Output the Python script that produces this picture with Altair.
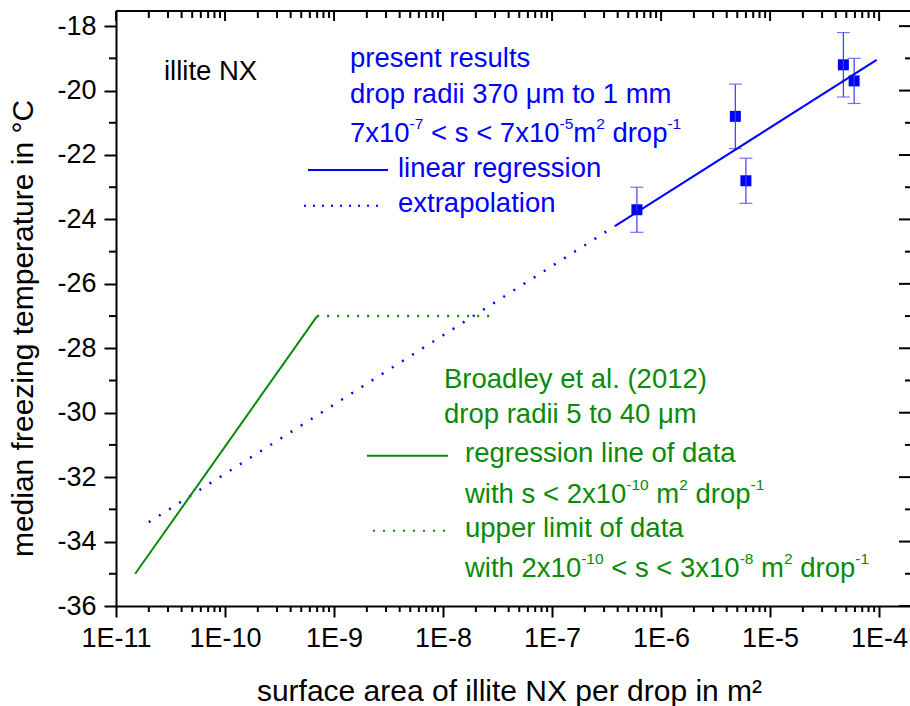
import altair as alt
import pandas as pd

# ---------------- data ----------------
present_s = [6.0e-7, 4.8e-6, 6.0e-6, 4.7e-5, 5.9e-5]
present_T = [-23.7, -20.8, -22.8, -19.2, -19.7]
present_err = [0.7, 1.0, 0.7, 1.0, 0.7]

reg_s = [3.8e-7, 9.5e-5]
reg_T = [-24.2, -19.05]
extrap_s = [2.0e-11, 3.8e-7]
extrap_T = [-33.4, -24.2]

broad_reg_s = [1.5e-11, 7.0e-10]
broad_reg_T = [-35.0, -27.0]
broad_up_s = [7.0e-10, 3.0e-8]
broad_up_T = [-27.0, -27.0]

x_major = [1e-11, 1e-10, 1e-9, 1e-8, 1e-7, 1e-6, 1e-5, 1e-4]
y_major = [-36, -34, -32, -30, -28, -26, -24, -22, -20, -18]
y_minor = [-35, -33, -31, -29, -27, -25, -23, -21, -19]

X_DOMAIN = [1e-11, 1.92e-4]
Y_DOMAIN = [-36, -17.53]
x_minor = [m * d for d in x_major for m in range(2, 10) if m * d <= X_DOMAIN[1]]

# annotation texts: (segment, is_superscript)
blue_lines = [
    [("present results", 0)],
    [("drop radii 370 \u03bcm to 1 mm", 0)],
    [("7x10", 0), ("-7", 1), (" < s < 7x10", 0), ("-5", 1), ("m", 0), ("2", 1),
     (" drop", 0), ("-1", 1)],
    [("linear regression", 0)],
    [("extrapolation", 0)],
]
green_lines = [
    [("Broadley et al. (2012)", 0)],
    [("drop radii 5 to 40 \u03bcm", 0)],
    [("regression line of data", 0)],
    [("with s < 2x10", 0), ("-10", 1), (" m", 0), ("2", 1), (" drop", 0), ("-1", 1)],
    [("upper limit of data", 0)],
    [("with 2x10", 0), ("-10", 1), (" < s < 3x10", 0), ("-8", 1), (" m", 0), ("2", 1),
     (" drop", 0), ("-1", 1)],
]
label_text = "illite NX"
x_title = "surface area of illite NX per drop in m\u00b2"
y_title = "median freezing temperature in \u00b0C"

# ---------------- layout ----------------
W, H = 794, 595
FONT = "Liberation Sans"
BLUE = "#0000ff"
GREEN = "#0a8a0a"
ANN = 27.5
SUP = 15.5
RAISE = 13

# Arial / Liberation Sans advance widths (1/1000 em)
AW = {" ": 278, "-": 333, "x": 500, "<": 584, "s": 500, "m": 833, "d": 556,
      "r": 333, "o": 556, "p": 556, "w": 722, "i": 222, "t": 278, "h": 556}
for c in "0123456789":
    AW[c] = 556


def text_width(t, size):
    return sum(AW.get(c, 556) for c in t) * size / 1000.0


xs = alt.Scale(type="log", domain=X_DOMAIN, nice=False)
ys = alt.Scale(domain=Y_DOMAIN, nice=False, zero=False)

x_axis = alt.Axis(values=x_major, labelExpr="'1E' + round(log(datum.value)/LN10)",
                  tickSize=11, tickWidth=2, tickColor="black", domainWidth=2,
                  domainColor="black", labelFont=FONT, labelFontSize=27,
                  labelColor="black", labelPadding=8, labelFlush=False,
                  labelOverlap=False, title=x_title, titleFont=FONT,
                  titleFontSize=30, titleFontWeight="normal", titleColor="black",
                  titleX=393, titleY=94, titleBaseline="alphabetic", grid=False)
y_axis = alt.Axis(values=y_major, labelExpr="'' + datum.value",
                  tickSize=12, tickWidth=2, tickColor="black", domainWidth=2,
                  domainColor="black", labelFont=FONT, labelFontSize=27,
                  labelColor="black", labelPadding=8, labelOverlap=False,
                  title=y_title, titleFont=FONT, titleFontSize=30,
                  titleFontWeight="normal", titleColor="black", titleX=-84,
                  titleY=317, titleAngle=270, titleBaseline="alphabetic", grid=False)

X = lambda f: alt.X(f, scale=xs, axis=x_axis)
Y = lambda f: alt.Y(f, scale=ys, axis=y_axis)

pts = pd.DataFrame({"s": present_s, "T": present_T, "e": present_err})

points = alt.Chart(pts).mark_square(size=121, color=BLUE, opacity=1).encode(
    x=X("s:Q"), y=Y("T:Q"))

err_base = alt.Chart(pts).transform_calculate(lo="datum.T - datum.e", hi="datum.T + datum.e")
err_rule = err_base.mark_rule(color="#3a3aff", strokeWidth=1.2).encode(
    x=X("s:Q"), y=Y("lo:Q"), y2="hi:Q")
cap_lo = err_base.mark_tick(color="#3a3aff", orient="horizontal", size=13, thickness=1.2).encode(
    x=X("s:Q"), y=Y("lo:Q"))
cap_hi = err_base.mark_tick(color="#3a3aff", orient="horizontal", size=13, thickness=1.2).encode(
    x=X("s:Q"), y=Y("hi:Q"))


def line(sv, tv, color, dash=None):
    kw = dict(color=color, strokeWidth=2, clip=True)
    if dash:
        kw.update(strokeDash=dash, strokeWidth=2.5)
    return alt.Chart(pd.DataFrame({"s": sv, "T": tv})).mark_line(**kw).encode(
        x=X("s:Q"), y=Y("T:Q"))


lines = [
    line(reg_s, reg_T, BLUE),
    line(extrap_s, extrap_T, BLUE, [2, 10]),
    line(broad_reg_s, broad_reg_T, GREEN),
    line(broad_up_s, broad_up_T, GREEN, [2, 8]),
]

# minor / mirrored ticks
xmin_df = pd.DataFrame({"s": x_minor})
xmaj_df = pd.DataFrame({"s": x_major})
ymin_df = pd.DataFrame({"T": y_minor})
ymaj_df = pd.DataFrame({"T": y_major})


def xtick(df, y0, y1):
    return alt.Chart(df).mark_rule(color="black", strokeWidth=2).encode(
        x=X("s:Q"), y=alt.value(y0), y2=alt.value(y1))


def ytick(df, x0, x1):
    return alt.Chart(df).mark_rule(color="black", strokeWidth=2).encode(
        y=Y("T:Q"), x=alt.value(x0), x2=alt.value(x1))


ticks = [
    xtick(xmin_df, H, H + 6),
    xtick(xmin_df, 0, 7),
    xtick(xmaj_df, 0, 10),
    ytick(ymin_df, -7, 0),
    ytick(ymin_df, W - 5, W),
    ytick(ymaj_df, W - 11, W),
]
one = pd.DataFrame({"a": [0]})
frame_top = alt.Chart(one).mark_rule(color="black", strokeWidth=2).encode(
    x=alt.value(0), x2=alt.value(W), y=alt.value(0))


def txt(t, x, y, color, size=ANN):
    return alt.Chart(pd.DataFrame({"t": [t]})).mark_text(
        align="left", baseline="alphabetic", font=FONT, fontSize=size, color=color
    ).encode(x=alt.value(x), y=alt.value(y), text="t:N")


def rich(segments, x, y, color):
    layers = []
    cx = x
    for seg, sup in segments:
        size = SUP if sup else ANN
        lead = len(seg) - len(seg.lstrip(" "))
        cx += text_width(" " * lead, size)
        body = seg.strip(" ")
        layers.append(txt(body, cx, y - RAISE if sup else y, color, size))
        cx += text_width(body, size)
        trail = len(seg) - len(seg.rstrip(" "))
        cx += text_width(" " * trail, size)
    return layers


def sample(x0, x1, y, color, dash=None):
    kw = dict(color=color, strokeWidth=2)
    if dash:
        kw.update(strokeDash=dash)
    return alt.Chart(one).mark_rule(**kw).encode(x=alt.value(x0), x2=alt.value(x1), y=alt.value(y))


ann = [txt(label_text, 48, 68.5, "black", 27.5)]
blue_pos = [(234, 55.7), (234, 91.5), (234, 131), (282, 165.7), (282, 200.7)]
for segs, (px, py) in zip(blue_lines, blue_pos):
    ann += rich(segs, px, py, BLUE)
green_pos = [(328, 377.3), (328, 412.3), (349, 450.7), (349, 492.3), (349, 525.7), (349, 566.3)]
for segs, (px, py) in zip(green_lines, green_pos):
    ann += rich(segs, px, py, GREEN)
ann += [
    sample(192, 272, 159, BLUE),
    sample(188, 269, 194.7, BLUE, [2, 7]),
    sample(251, 332, 444.7, GREEN),
    sample(257, 336, 519.7, GREEN, [2, 8]),
]

chart = alt.layer(points, err_rule, cap_lo, cap_hi, *lines, *ticks, frame_top, *ann).properties(
    width=W, height=H,
    autosize=alt.AutoSizeParams(type="none"),
    padding={"left": 116, "top": 11, "right": 0, "bottom": 100},
    background="white",
).configure_view(stroke=None).configure_axis(grid=False)

chart.save("out.html", embed_options={"renderer": "svg", "actions": False})
